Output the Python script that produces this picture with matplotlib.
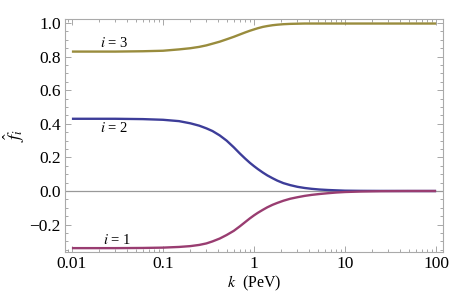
import matplotlib
matplotlib.use('Agg')
import matplotlib.pyplot as plt
from matplotlib.ticker import FixedLocator, LogLocator, NullFormatter, MultipleLocator

plt.rcParams['font.family'] = ['Liberation Serif', 'DejaVu Serif']
plt.rcParams['mathtext.fontset'] = 'stix'

k = [0.01, 0.03, 0.06, 0.1, 0.15, 0.2, 0.25, 0.3, 0.35, 0.42, 0.5, 0.6, 0.7, 0.8,
     0.9, 1.0, 1.1, 1.25, 1.4, 1.6, 1.8, 2.1, 2.5, 3, 3.6, 4.3, 5.2, 6.5, 8, 10,
     15, 25, 50, 100]
f3 = [0.830, 0.830, 0.832, 0.835, 0.843, 0.850, 0.858, 0.867, 0.877, 0.889, 0.903,
      0.918, 0.932, 0.944, 0.954, 0.962, 0.969, 0.977, 0.982, 0.987, 0.990, 0.993,
      0.995, 0.996, 0.997, 0.997, 0.997, 0.997, 0.997, 0.997, 0.997, 0.997, 0.997,
      0.997]
f2 = [0.430, 0.430, 0.428, 0.424, 0.416, 0.403, 0.389, 0.373, 0.357, 0.331, 0.300,
      0.260, 0.223, 0.193, 0.168, 0.148, 0.131, 0.110, 0.093, 0.076, 0.062, 0.047,
      0.035, 0.025, 0.018, 0.013, 0.009, 0.006, 0.004, 0.002, 0.001, 0.0005, 0.0,
      0.0]
f1 = [-0.340, -0.340, -0.339, -0.337, -0.333, -0.328, -0.321, -0.312, -0.300, -0.283,
      -0.262, -0.237, -0.210, -0.185, -0.163, -0.145, -0.130, -0.112, -0.097, -0.082,
      -0.071, -0.058, -0.046, -0.037, -0.029, -0.023, -0.018, -0.013, -0.009, -0.006,
      -0.003, -0.001, 0.0, 0.0]

xticks = [0.01, 0.1, 1, 10, 100]
xticklabels = ['0.01', '0.1', '1', '10', '100']
yticks = [-0.2, 0.0, 0.2, 0.4, 0.6, 0.8, 1.0]
yticklabels = ['\u22120.2', '0.0', '0.2', '0.4', '0.6', '0.8', '1.0']

fig = plt.figure(figsize=(4.49, 2.95), dpi=100)
ax = fig.add_axes([0.1448, 0.1458, 0.8418, 0.7898])

ax.axhline(0, color='#999999', lw=0.9, zorder=1)
ax.plot(k, f3, color='#998c3d', lw=1.7, solid_capstyle='butt')
ax.plot(k, f2, color='#3d3d99', lw=1.7, solid_capstyle='butt')
ax.plot(k, f1, color='#993d71', lw=1.7, solid_capstyle='butt')

ax.set_xscale('log')
ax.set_xlim(0.0084, 119)
ax.set_ylim(-0.363, 1.024)

ax.xaxis.set_major_locator(FixedLocator(xticks))
ax.set_xticklabels(xticklabels)
ax.xaxis.set_minor_locator(LogLocator(base=10, subs=range(2, 10)))
ax.xaxis.set_minor_formatter(NullFormatter())
ax.set_yticks(yticks)
ax.set_yticklabels(yticklabels)
ax.yaxis.set_minor_locator(MultipleLocator(0.05))

for s in ax.spines.values():
    s.set_color('#aaaaaa')
    s.set_linewidth(0.8)
ax.tick_params(which='both', direction='in', top=True, right=True,
               color='#999999', labelsize=12.5, width=0.6)
ax.tick_params(which='major', length=4, pad=3)
ax.tick_params(which='minor', length=2)

ax.text(0.029, 0.88, '$i$ = 3', fontsize=10.5, ha='center', va='center')
ax.text(0.029, 0.375, '$i$ = 2', fontsize=10.5, ha='center', va='center')
ax.text(0.031, -0.29, '$i$ = 1', fontsize=10.5, ha='center', va='center')

ax.set_xlabel('$k$  (PeV)', fontsize=11.5, labelpad=1)
ax.set_ylabel('$\\hat{f}_i$', fontsize=13, labelpad=2)

fig.savefig('out.png', dpi=100)
